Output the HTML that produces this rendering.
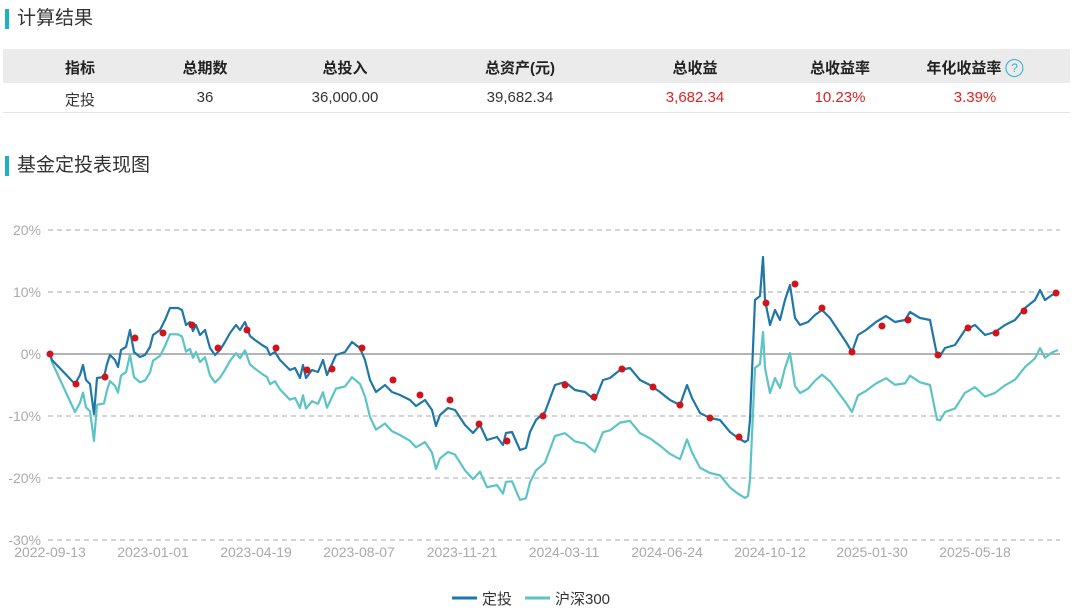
<!DOCTYPE html><html><head><meta charset="utf-8"><style>
body{margin:0;width:1080px;height:616px;background:#fff;font-family:"Liberation Sans","Noto Sans CJK SC",sans-serif;position:relative;overflow:hidden}
.t{position:absolute;left:5px;font-size:19px;color:#333;border-left:4px solid #1ab0c8;padding-left:8px;line-height:20px}
.c{position:absolute;transform:translateX(-50%);font-size:15px;white-space:nowrap}
</style></head><body>
<div class="t" style="top:9px">计算结果</div>
<div style="position:absolute;left:3px;top:49px;width:1067px;height:34px;background:#ebebeb"></div>
<div style="position:absolute;left:3px;top:112px;width:1067px;height:1px;background:#e4e4e4"></div>
<div class="c" style="left:80px;top:57px;font-weight:bold;color:#222">指标</div>
<div class="c" style="left:205px;top:57px;font-weight:bold;color:#222">总期数</div>
<div class="c" style="left:345px;top:57px;font-weight:bold;color:#222">总投入</div>
<div class="c" style="left:520px;top:57px;font-weight:bold;color:#222">总资产(元)</div>
<div class="c" style="left:695px;top:57px;font-weight:bold;color:#222">总收益</div>
<div class="c" style="left:840px;top:57px;font-weight:bold;color:#222">总收益率</div>
<div class="c" style="left:975px;top:57px;font-weight:bold;color:#222">年化收益率 <span style="display:inline-block;width:16px;height:16px;border:1.5px solid #2ab2d0;border-radius:50%;color:#2ab2d0;font-size:12px;line-height:16px;text-align:center;font-weight:normal;vertical-align:1px">?</span></div>
<div class="c" style="left:80px;top:89px;color:#333">定投</div>
<div class="c" style="left:205px;top:89px;color:#333">36</div>
<div class="c" style="left:345px;top:89px;color:#333">36,000.00</div>
<div class="c" style="left:520px;top:89px;color:#333">39,682.34</div>
<div class="c" style="left:695px;top:89px;color:#d22">3,682.34</div>
<div class="c" style="left:840px;top:89px;color:#d22">10.23%</div>
<div class="c" style="left:975px;top:89px;color:#d22">3.39%</div>
<div class="t" style="top:156px">基金定投表现图</div>
<svg id="s" width="1080" height="616" style="position:absolute;left:0;top:0" font-family="Liberation Sans, sans-serif"></svg>
<script>
var s=document.getElementById('s'),h='';
var ys=[[230,'20%'],[292,'10%'],[354,'0%'],[416,'-10%'],[478,'-20%'],[540,'-30%']];
ys.forEach(function(a){h+=a[1]=='0%'?'<line x1="48" x2="1060" y1="354" y2="354" stroke="#888" stroke-width="1.3"/>':'<line x1="48" x2="1060" y1="'+a[0]+'" y2="'+a[0]+'" stroke="#aaa" stroke-dasharray="5,4"/>';
h+='<text x="41" y="'+(a[0]+5)+'" font-size="14" fill="#aaa" text-anchor="end">'+a[1]+'</text>';});
var xl=[[50,'2022-09-13'],[153,'2023-01-01'],[256,'2023-04-19'],[359,'2023-08-07'],[462,'2023-11-21'],[564,'2024-03-11'],[667,'2024-06-24'],[770,'2024-10-12'],[872,'2025-01-30'],[975,'2025-05-18']];
xl.forEach(function(a){h+='<text x="'+a[0]+'" y="557" font-size="14" fill="#aaa" text-anchor="middle">'+a[1]+'</text>';});
var d=[50,354,52,360,75,384,80,375,83,365,86,380,90,384,94,414,97,378,104,377,107,364,110,355,115,360,118,367,121,350,126,347,130,330,134,352,140,357,145,355,150,347,153,335,160,330,165,320,170,308,178,308,182,310,186,325,190,322,193,331,196,325,200,335,205,330,210,348,215,355,220,350,225,342,230,333,236,325,240,330,245,322,250,336,255,340,262,345,267,348,270,355,275,352,280,360,285,365,290,370,295,368,300,378,303,365,306,378,312,370,318,372,323,360,327,375,336,355,345,352,352,342,360,348,365,360,370,380,376,392,385,385,392,392,400,395,410,400,416,406,425,400,432,410,436,426,440,415,448,408,455,410,465,425,473,433,480,425,487,440,497,437,503,445,506,433,512,432,520,450,526,448,530,432,536,420,545,412,555,385,565,382,575,390,585,392,595,400,603,380,610,378,620,370,630,368,640,380,650,385,660,392,670,400,680,405,687,385,692,398,700,413,710,418,720,420,730,432,738,438,745,442,748,440,750,420,755,300,760,296,763,257,765,300,770,325,775,310,780,320,785,300,790,285,795,318,800,325,808,322,815,315,822,310,830,318,838,330,846,342,852,352,858,335,866,330,876,322,886,316,895,322,905,320,910,312,920,318,930,320,937,355,940,356,945,348,955,345,965,330,975,325,985,335,995,332,1005,325,1015,320,1025,308,1035,300,1040,290,1045,300,1052,295,1058,293];
function off(x){var k=[[50,0],[75,28],[130,25],[300,30],[400,40],[520,50],[748,56],[755,68],[800,68],[852,60],[930,65],[1058,57]];for(var i=1;i<k.length;i++)if(x<=k[i][0]){var a=k[i-1],b=k[i];return a[1]+(b[1]-a[1])*(x-a[0])/(b[0]-a[0]);}return 57;}
var p1='',p2='';for(var i=0;i<d.length;i+=2){p1+=d[i]+','+d[i+1]+' ';var o=off(d[i]);if(d[i]==763)o=75;p2+=d[i]+','+(d[i+1]+o)+' ';}
h+='<polyline points="'+p2+'" fill="none" stroke="#5cc4c4" stroke-width="2.2" stroke-linejoin="round"/>';
h+='<polyline points="'+p1+'" fill="none" stroke="#1f77a8" stroke-width="2.2" stroke-linejoin="round"/>';
var r=[50,354,76,384,105,377,135,338,163,333,192,325,218,348,247,330,276,348,307,370,332,369,362,348,393,380,420,395,450,400,479,424,507,441,543,416,565,385,594,397,622,369,653,387,680,405,710,418,739,437,766,303,795,284,822,308,852,352,882,326,908,320,938,355,968,328,996,333,1024,311,1056,293];
for(i=0;i<r.length;i+=2)h+='<circle cx="'+r[i]+'" cy="'+r[i+1]+'" r="3.5" fill="#d0141c"/>';
h+='<line x1="452" x2="477" y1="598" y2="598" stroke="#1f77a8" stroke-width="3"/><text x="482" y="604" font-size="15" fill="#333" font-family="Liberation Sans, Noto Sans CJK SC, sans-serif">定投</text>';
h+='<line x1="525" x2="550" y1="598" y2="598" stroke="#5cc4c4" stroke-width="3"/><text x="555" y="604" font-size="15" fill="#333" font-family="Liberation Sans, Noto Sans CJK SC, sans-serif">沪深300</text>';
s.innerHTML=h;
</script></body></html>
